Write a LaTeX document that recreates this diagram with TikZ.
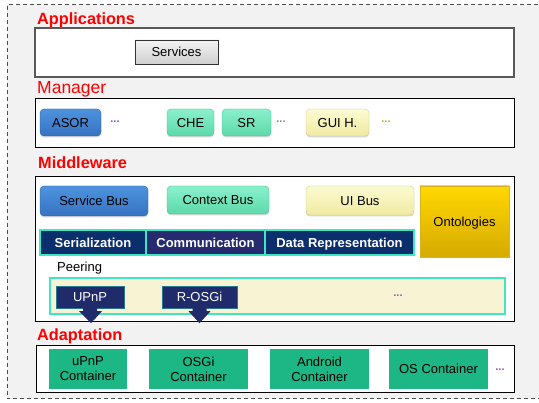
\documentclass[tikz,border=0pt]{standalone}
\usepackage{fontspec}
\setmainfont{Liberation Sans}
\usetikzlibrary{shadows,calc}
\definecolor{bgg}{HTML}{F2F2F2}
\definecolor{ttlred}{HTML}{FF0000}
\definecolor{bluetop}{HTML}{4D93DE}
\definecolor{bluebot}{HTML}{3673C2}
\definecolor{minttop}{HTML}{8AF0CC}
\definecolor{mintbot}{HTML}{5CD9AA}
\definecolor{yeltop}{HTML}{FCFBD2}
\definecolor{yelbot}{HTML}{F0EAA2}
\definecolor{graytop}{HTML}{F4F4F4}
\definecolor{graybot}{HTML}{CFCFCF}
\definecolor{goldtop}{HTML}{FFD800}
\definecolor{goldbot}{HTML}{D6AA00}
\definecolor{navy}{HTML}{0B2E6C}
\definecolor{navyp}{HTML}{262A6E}
\definecolor{turq}{HTML}{3EE6C4}
\definecolor{cream}{HTML}{F8F3D2}
\definecolor{contg}{HTML}{1DB685}
\definecolor{callnavy}{HTML}{1F2B6B}
\definecolor{dotpur}{HTML}{9B4FC0}
\definecolor{dotgray}{HTML}{8A8A8A}
\definecolor{dotyel}{HTML}{C8B000}
\tikzset{
  txt/.style={font=\fontsize{13}{15}\selectfont},
  tb/.style={text height=9.3pt, text depth=0pt},
  ttl/.style={font=\fontsize{16.3}{18}\selectfont\bfseries, text=ttlred, anchor=base west, inner sep=0pt},
  layerbox/.style={draw=black, line width=1pt, fill=white, inner sep=0pt},
  btn/.style={txt, tb, rounded corners=4pt, inner sep=0pt, drop shadow={shadow xshift=0pt, shadow yshift=-1.5pt, opacity=0.3}},
  bluebtn/.style={btn, top color=bluetop, bottom color=bluebot, draw=bluebot!80!black, line width=0.3pt},
  mintbtn/.style={btn, top color=minttop, bottom color=mintbot, draw=mintbot!85!black, line width=0.3pt},
  yelbtn/.style={btn, top color=yeltop, bottom color=yelbot, draw=yelbot!85!black, line width=0.3pt},
  graybtn/.style={txt, tb, top color=graytop, bottom color=graybot, draw=black!80, line width=0.8pt, inner sep=0pt},
  proto/.style={txt, tb, font=\fontsize{13}{15}\selectfont\bfseries, text=white, draw=turq, line width=1.6pt, inner sep=0pt},
  cont/.style={txt, fill=contg, inner sep=0pt, align=center, minimum width=99pt, minimum height=40pt},
  callout/.style={txt, tb, fill=callnavy, text=white, draw=turq!40!callnavy, line width=0.4pt, inner sep=0pt},
  dots/.style={font=\fontsize{11}{12}\selectfont\bfseries, inner sep=0pt}
}
\begin{document}
\begin{tikzpicture}[x=1pt,y=-1pt]
\useasboundingbox (0,0) rectangle (539,403);
\fill[white] (0,0) rectangle (539,403);
\fill[bgg] (7,5) rectangle (539,399);
\draw[black!70, line width=1pt, dash pattern=on 4pt off 3pt] (545,5) -- (7,5) -- (7,399) -- (545,399);

% Applications
\node[ttl] (tapp) at (37,25) {Applications};
\node[layerbox, draw=black!65, line width=1.3pt, minimum width=479pt, minimum height=49pt] (app) at (274.5,52.5) {};
\node[graybtn, minimum width=83pt, minimum height=24pt] (serv) at (176.5,52) {Services};

% Manager
\node[ttl, font=\fontsize{17.5}{19}\selectfont] (tman) at (37,94) {Manager};
\node[layerbox, minimum width=479pt, minimum height=49pt] (man) at (274.5,123.5) {};
\node[bluebtn, minimum width=61pt, minimum height=27pt] (asor) at (70.5,122.5) {ASOR};
\node[dots, text=dotpur] (d1) at (115,122) {...};
\node[mintbtn, minimum width=47pt, minimum height=27pt] (che) at (190.5,122.5) {CHE};
\node[mintbtn, minimum width=49pt, minimum height=27pt] (sr) at (246.5,122.5) {SR};
\node[dots, text=dotgray] (d2) at (281,122) {...};
\node[yelbtn, minimum width=63pt, minimum height=27pt] (gui) at (337.5,122.5) {GUI H.};
\node[dots, text=dotyel] (d3) at (386,122) {...};

% Middleware
\node[ttl] (tmw) at (38,169) {Middleware};
\node[layerbox, minimum width=479pt, minimum height=145pt] (mw) at (274.5,249.5) {};
\node[bluebtn, minimum width=108pt, minimum height=30pt] (sbus) at (94,201) {Service Bus};
\node[mintbtn, minimum width=102pt, minimum height=28pt] (cbus) at (218,200) {Context Bus};
\node[yelbtn, minimum width=108pt, minimum height=29pt] (uibus) at (360,200.5) {UI Bus};
\node[txt, tb, top color=goldtop, bottom color=goldbot, draw=goldbot!90!white, line width=0.4pt, minimum width=89pt, minimum height=71pt, inner sep=0pt, drop shadow={shadow xshift=0pt, shadow yshift=-1.5pt, opacity=0.25}] (onto) at (464.5,221.5) {Ontologies};
\node[proto, fill=navy, minimum width=106pt, minimum height=25pt] (ser) at (93,242.5) {Serialization};
\node[proto, fill=navyp, minimum width=119pt, minimum height=25pt] (com) at (205.5,242.5) {Communication};
\node[proto, fill=navy, minimum width=149pt, minimum height=25pt] (drep) at (339.5,242.5) {Data Representation};
\node[txt, anchor=west, inner sep=0pt] (peerl) at (57,268) {Peering};
\node[fill=cream, draw=turq, line width=1.6pt, minimum width=455pt, minimum height=36pt, inner sep=0pt] (peer) at (277.5,296) {};
\node[dots, text=dotpur] (d4) at (398,296) {...};

% callouts
\node[callout, minimum width=68pt, minimum height=22pt] (upnp) at (90,297) {UPnP};
\fill[callnavy] ($(upnp.south)+(-7,-0.5)$) -- ++(0,3.5) -- ++(-4,0) -- ($(upnp.south)+(1,15)$) -- ($(upnp.south)+(12,3)$) -- ++(-5,0) -- ++(0,-3.5) -- cycle;
\node[callout, minimum width=75pt, minimum height=22pt] (rosgi) at (199.5,297) {R-OSGi};
\fill[callnavy] ($(rosgi.south)+(-7,-0.5)$) -- ++(0,3.5) -- ++(-4,0) -- ($(rosgi.south)+(0,15)$) -- ($(rosgi.south)+(11,3)$) -- ++(-4,0) -- ++(0,-3.5) -- cycle;

% Adaptation
\node[ttl] (tad) at (37,341) {Adaptation};
\node[layerbox, minimum width=478pt, minimum height=47pt] (ad) at (275,369.5) {};
\node[cont, minimum width=78pt] (c1) at (88,369) {uPnP\\Container};
\node[cont] (c2) at (198.5,369) {OSGi\\Container};
\node[cont] (c3) at (319.5,369) {Android\\Container};
\node[cont] (c4) at (438.5,369) {OS Container};
\node[dots, text=dotpur] (d5) at (500,370) {...};
\end{tikzpicture}
\end{document}
